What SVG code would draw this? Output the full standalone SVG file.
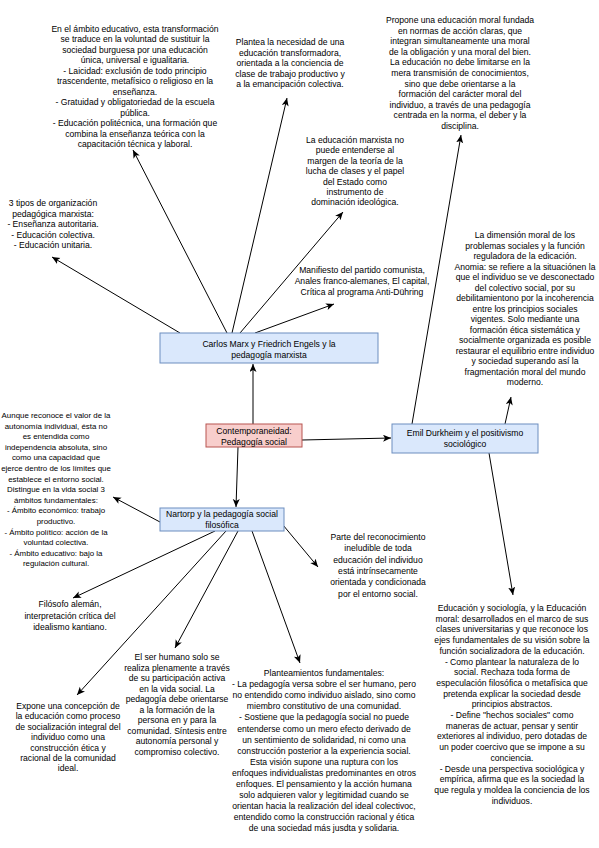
<svg xmlns="http://www.w3.org/2000/svg" width="599" height="848" viewBox="0 0 599 848">
<style>
.t{font-family:"Liberation Sans",Arial,sans-serif;font-size:8.6px;fill:#000;text-anchor:middle}
.s{font-size:7.9px}
.blue{fill:#dae8fc;stroke:#6c8ebf;stroke-width:1}
.pink{fill:#f8cecc;stroke:#b85450;stroke-width:1}
.c{stroke:#000;stroke-width:1;fill:none;marker-end:url(#ah)}
</style>
<defs>
<marker id="ah" markerUnits="userSpaceOnUse" markerWidth="9" markerHeight="8" refX="8" refY="3.5" orient="auto">
<path d="M0,0 L8,3.5 L0,7 L2,3.5 z" fill="#000"/>
</marker>
</defs>
<rect width="599" height="848" fill="#fff"/>

<g id="connectors">
<line class="c" x1="253" y1="424" x2="253" y2="364"/>
<line class="c" x1="302" y1="440" x2="391" y2="438"/>
<line class="c" x1="238" y1="447" x2="236" y2="507"/>
<line class="c" x1="180" y1="333" x2="52" y2="257"/>
<line class="c" x1="227" y1="333" x2="133" y2="150"/>
<line class="c" x1="232" y1="333" x2="287" y2="98"/>
<line class="c" x1="240" y1="333" x2="343" y2="212"/>
<line class="c" x1="255" y1="333" x2="334" y2="304"/>
<line class="c" x1="412" y1="424" x2="461" y2="135"/>
<line class="c" x1="505" y1="424" x2="511" y2="397"/>
<line class="c" x1="489" y1="453" x2="513" y2="595"/>
<line class="c" x1="160" y1="522" x2="113" y2="497"/>
<line class="c" x1="215" y1="531" x2="73" y2="598"/>
<line class="c" x1="226" y1="531" x2="77" y2="695"/>
<line class="c" x1="238" y1="531" x2="175" y2="648"/>
<line class="c" x1="252" y1="531" x2="300" y2="663"/>
<line class="c" x1="283" y1="525" x2="318" y2="567"/>
</g>

<g id="marx">
<rect class="blue" x="160" y="333" width="218" height="30"/>
<text class="t" x="269" y="346.5"><tspan x="269">Carlos Marx y Friedrich Engels y la</tspan><tspan x="269" dy="11.5">pedagogía marxista</tspan></text>
</g>
<g id="contemporaneidad">
<rect class="pink" x="206" y="424" width="96" height="23"/>
<text class="t" x="254" y="434"><tspan x="254">Contemporaneidad:</tspan><tspan x="254" dy="11">Pedagogía social</tspan></text>
</g>
<g id="durkheim">
<rect class="blue" x="392" y="424" width="146" height="29"/>
<text class="t" x="465" y="436"><tspan x="465">Emil Durkheim y el positivismo</tspan><tspan x="465" dy="11">sociológico</tspan></text>
</g>
<g id="natorp">
<rect class="blue" x="160" y="508" width="124" height="23"/>
<text class="t" x="222" y="517"><tspan x="222">Nartorp y la pedagogía social</tspan><tspan x="222" dy="11">filosófica</tspan></text>
</g>

<g id="ambito-educativo">
<text class="t" x="135" y="32"><tspan x="135">En el ámbito educativo, esta transformación</tspan><tspan x="135" dy="10.45">se traduce en la voluntad de sustituir la</tspan><tspan x="135" dy="10.45">sociedad burguesa por una educación</tspan><tspan x="135" dy="10.45">única, universal e igualitaria.</tspan><tspan x="135" dy="10.45">- Laicidad: exclusión de todo principio</tspan><tspan x="135" dy="10.45">trascendente, metafísico o religioso en la</tspan><tspan x="135" dy="10.45">enseñanza.</tspan><tspan x="135" dy="10.45">- Gratuidad y obligatoriedad de la escuela</tspan><tspan x="135" dy="10.45">pública.</tspan><tspan x="135" dy="10.45">- Educación politécnica, una formación que</tspan><tspan x="135" dy="10.45">combina la enseñanza teórica con la</tspan><tspan x="135" dy="10.45">capacitación técnica y laboral.</tspan></text>
</g>
<g id="plantea">
<text class="t" x="290" y="45"><tspan x="290">Plantea la necesidad de una</tspan><tspan x="290" dy="10.6">educación transformadora,</tspan><tspan x="290" dy="10.6">orientada a la conciencia de</tspan><tspan x="290" dy="10.6">clase de trabajo productivo y</tspan><tspan x="290" dy="10.6">a la emancipación colectiva.</tspan></text>
</g>
<g id="propone">
<text class="t" x="460" y="23"><tspan x="460">Propone una educación moral fundada</tspan><tspan x="460" dy="10.6">en normas de acción claras, que</tspan><tspan x="460" dy="10.6">integran simultaneamente una moral</tspan><tspan x="460" dy="10.6">de la obligación y una moral del bien.</tspan><tspan x="460" dy="10.6">La educación no debe limitarse en la</tspan><tspan x="460" dy="10.6">mera transmisión de conocimientos,</tspan><tspan x="460" dy="10.6">sino que debe orientarse a la</tspan><tspan x="460" dy="10.6">formación del carácter moral del</tspan><tspan x="460" dy="10.6">individuo, a través de una pedagogía</tspan><tspan x="460" dy="10.6">centrada en la norma, el deber y la</tspan><tspan x="460" dy="10.6">disciplina.</tspan></text>
</g>
<g id="educacion-marxista">
<text class="t" x="355" y="143"><tspan x="355">La educación marxista no</tspan><tspan x="355" dy="10.4">puede entenderse al</tspan><tspan x="355" dy="10.4">margen de la teoría de la</tspan><tspan x="355" dy="10.4">lucha de clases y el papel</tspan><tspan x="355" dy="10.4">del Estado como</tspan><tspan x="355" dy="10.4">instrumento de</tspan><tspan x="355" dy="10.4">dominación ideológica.</tspan></text>
</g>
<g id="tres-tipos">
<text class="t" x="53" y="206"><tspan x="53">3 tipos de organización</tspan><tspan x="53" dy="10.6">pedagógica marxista:</tspan><tspan x="53" dy="10.6">- Enseñanza autoritaria.</tspan><tspan x="53" dy="10.6">- Educación colectiva.</tspan><tspan x="53" dy="10.6">- Educación unitaria.</tspan></text>
</g>
<g id="manifiesto">
<text class="t" x="362" y="273"><tspan x="362">Manifiesto del partido comunista,</tspan><tspan x="362" dy="10.8">Anales franco-alemanes, El capital,</tspan><tspan x="362" dy="10.8">Crítica al programa Anti-Dühring</tspan></text>
</g>
<g id="dimension-moral">
<text class="t" x="525" y="238"><tspan x="525">La dimensión moral de los</tspan><tspan x="525" dy="10.5">problemas sociales y la función</tspan><tspan x="525" dy="10.5">reguladora de la edicación.</tspan><tspan x="525" dy="10.5">Anomia: se refiere a la situaciónen la</tspan><tspan x="525" dy="10.5">que el individuo se ve desconectado</tspan><tspan x="525" dy="10.5">del colectivo social, por su</tspan><tspan x="525" dy="10.5">debilitamientono por la incoherencia</tspan><tspan x="525" dy="10.5">entre los principios sociales</tspan><tspan x="525" dy="10.5">vigentes. Solo mediante una</tspan><tspan x="525" dy="10.5">formación ética sistemática y</tspan><tspan x="525" dy="10.5">socialmente organizada es posible</tspan><tspan x="525" dy="10.5">restaurar el equilibrio entre individuo</tspan><tspan x="525" dy="10.5">y sociedad superando así la</tspan><tspan x="525" dy="10.5">fragmentación moral del mundo</tspan><tspan x="525" dy="10.5">moderno.</tspan></text>
</g>
<g id="autonomia">
<text class="t s" x="56" y="418"><tspan x="56">Aunque reconoce el valor de la</tspan><tspan x="56" dy="10.6">autonomía individual, ésta no</tspan><tspan x="56" dy="10.6">es entendida como</tspan><tspan x="56" dy="10.6">independencia absoluta, sino</tspan><tspan x="56" dy="10.6">como una capacidad que</tspan><tspan x="56" dy="10.6">ejerce dentro de los límites que</tspan><tspan x="56" dy="10.6">establece el entorno social.</tspan><tspan x="56" dy="10.6">Distingue en la vida social 3</tspan><tspan x="56" dy="10.6">ámbitos fundamentales:</tspan><tspan x="56" dy="10.6">- Ámbito económico: trabajo</tspan><tspan x="56" dy="10.6">productivo.</tspan><tspan x="56" dy="10.6">- Ámbito político: acción de la</tspan><tspan x="56" dy="10.6">voluntad colectiva.</tspan><tspan x="56" dy="10.6">- Ámbito educativo: bajo la</tspan><tspan x="56" dy="10.6">regulación cultural.</tspan></text>
</g>
<g id="filosofo">
<text class="t" x="70" y="607"><tspan x="70">Filósofo alemán,</tspan><tspan x="70" dy="11.6">interpretación crítica del</tspan><tspan x="70" dy="11.6">idealismo kantiano.</tspan></text>
</g>
<g id="expone">
<text class="t" x="68" y="709"><tspan x="68">Expone una concepción de</tspan><tspan x="68" dy="10.4">la educación como proceso</tspan><tspan x="68" dy="10.4">de socialización integral del</tspan><tspan x="68" dy="10.4">individuo como una</tspan><tspan x="68" dy="10.4">construcción ética y</tspan><tspan x="68" dy="10.4">racional de la comunidad</tspan><tspan x="68" dy="10.4">ideal.</tspan></text>
</g>
<g id="ser-humano">
<text class="t" x="177" y="660"><tspan x="177">El ser humano solo se</tspan><tspan x="177" dy="10.5">realiza plenamente a través</tspan><tspan x="177" dy="10.5">de su participación activa</tspan><tspan x="177" dy="10.5">en la vida social. La</tspan><tspan x="177" dy="10.5">pedagogía debe orientarse</tspan><tspan x="177" dy="10.5">a la formación de la</tspan><tspan x="177" dy="10.5">persona en y para la</tspan><tspan x="177" dy="10.5">comunidad. Síntesis entre</tspan><tspan x="177" dy="10.5">autonomía personal y</tspan><tspan x="177" dy="10.5">compromiso colectivo.</tspan></text>
</g>
<g id="planteamientos">
<text class="t" x="324" y="676"><tspan x="324">Planteamientos fundamentales:</tspan><tspan x="324" dy="11.1">- La pedagogía versa sobre el ser humano, pero</tspan><tspan x="324" dy="11.1">no entendido como individuo aislado, sino como</tspan><tspan x="324" dy="11.1">miembro constitutivo de una comunidad.</tspan><tspan x="324" dy="11.1">- Sostiene que la pedagogía social no puede</tspan><tspan x="324" dy="11.1">entenderse como un mero efecto derivado de</tspan><tspan x="324" dy="11.1">un sentimiento de solidaridad, ni como una</tspan><tspan x="324" dy="11.1">construcción posterior a la experiencia social.</tspan><tspan x="324" dy="11.1">Esta visión supone una ruptura con los</tspan><tspan x="324" dy="11.1">enfoques individualistas predominantes en otros</tspan><tspan x="324" dy="11.1">enfoques. El pensamiento y la acción humana</tspan><tspan x="324" dy="11.1">solo adquieren valor y legitimidad cuando se</tspan><tspan x="324" dy="11.1">orientan hacia la realización del ideal colectivoc,</tspan><tspan x="324" dy="11.1">entendido como la construcción racional y ética</tspan><tspan x="324" dy="11.1">de una sociedad más jusdta y solidaria.</tspan></text>
</g>
<g id="educacion-sociologia">
<text class="t" x="512" y="611"><tspan x="512">Educación y sociología, y la Educación</tspan><tspan x="512" dy="10.7">moral: desarrollados en el marco de sus</tspan><tspan x="512" dy="10.7">clases universitarias y que reconoce los</tspan><tspan x="512" dy="10.7">ejes fundamentales de su visión sobre la</tspan><tspan x="512" dy="10.7">función socializadora de la educación.</tspan><tspan x="512" dy="10.7">- Como plantear la naturaleza de lo</tspan><tspan x="512" dy="10.7">social. Rechaza toda forma de</tspan><tspan x="512" dy="10.7">especulación filosófica o metafísica que</tspan><tspan x="512" dy="10.7">pretenda explicar la sociedad desde</tspan><tspan x="512" dy="10.7">principios abstractos.</tspan><tspan x="512" dy="10.7">- Define "hechos sociales" como</tspan><tspan x="512" dy="10.7">maneras de actuar, pensar y sentir</tspan><tspan x="512" dy="10.7">exteriores al individuo, pero dotadas de</tspan><tspan x="512" dy="10.7">un poder coercivo que se impone a su</tspan><tspan x="512" dy="10.7">conciencia.</tspan><tspan x="512" dy="10.7">- Desde una perspectiva sociológica y</tspan><tspan x="512" dy="10.7">empírica, afirma que es la sociedad la</tspan><tspan x="512" dy="10.7">que regula y moldea la conciencia de los</tspan><tspan x="512" dy="10.7">individuos.</tspan></text>
</g>
<g id="reconocimiento">
<text class="t" x="378" y="540"><tspan x="378">Parte del reconocimiento</tspan><tspan x="378" dy="11.3">ineludible de toda</tspan><tspan x="378" dy="11.3">educación del individuo</tspan><tspan x="378" dy="11.3">está intrínsecamente</tspan><tspan x="378" dy="11.3">orientada y condicionada</tspan><tspan x="378" dy="11.3">por el entorno social.</tspan></text>
</g>
</svg>
